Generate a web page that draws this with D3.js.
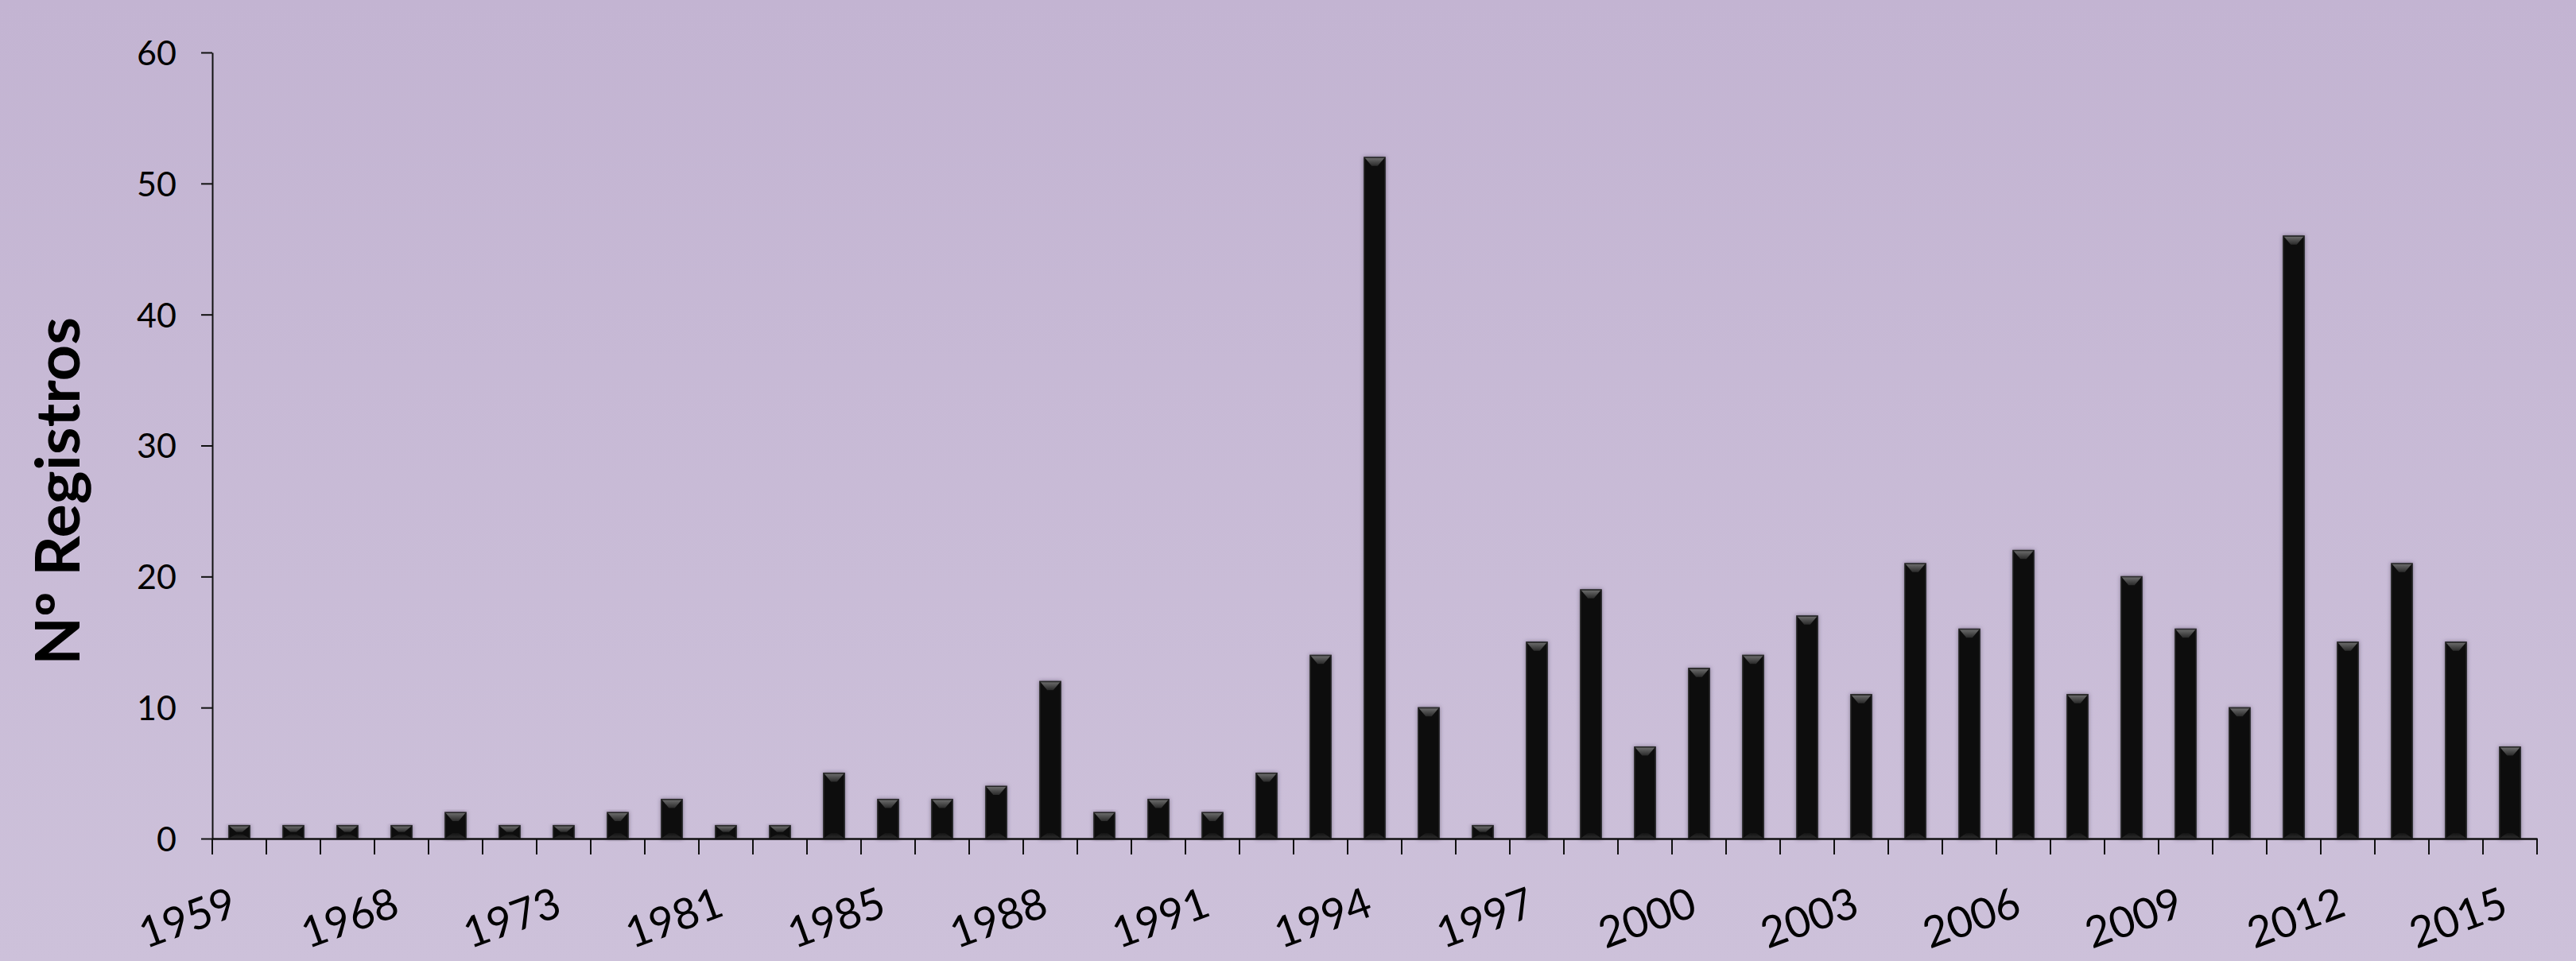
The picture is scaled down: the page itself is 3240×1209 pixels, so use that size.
<!DOCTYPE html>
<html>
<head>
<meta charset="utf-8">
<script src="https://cdn.jsdelivr.net/npm/d3@7"></script>
<style>
  html, body { margin: 0; padding: 0; }
  body { width: 3240px; height: 1209px; overflow: hidden; }
  svg { display: block; }
</style>
</head>
<body>
<svg id="chart" width="3240" height="1209"></svg>
<script>
// ---- data ----
const categories = [
  "1959","1962","1965","1968","1970","1971","1973","1975","1978","1981",
  "1983","1984","1985","1986","1987","1988","1989","1990","1991","1992",
  "1993","1994","1995","1996","1997","1998","1999","2000","2001","2002",
  "2003","2004","2005","2006","2007","2008","2009","2010","2011","2012",
  "2013","2014","2015"
];
const registros = [
  1,1,1,1,2,1,1,2,3,1,
  1,5,3,3,4,12,2,3,2,5,
  14,52,10,1,15,19,7,13,14,17,
  11,21,16,22,11,20,16,10,46,15,
  21,15,7
];
const labeledCategories = ["1959","1968","1973","1981","1985","1988","1991","1994","1997","2000","2003","2006","2009","2012","2015"];
const yTicks = [0,10,20,30,40,50,60];
const yTitle = "Nº Registros";

// ---- layout ----
const W = 3240, H = 1209;
const mLeft = 267, mRight = 3191, mTop = 66, mBottom = 1055;

const svg = d3.select("#chart");
const defs = svg.append("defs");

const bg = defs.append("linearGradient").attr("id","bg").attr("x1",0).attr("y1",0).attr("x2",0).attr("y2",1);
bg.append("stop").attr("offset","0%").attr("stop-color","#c3b4d2");
bg.append("stop").attr("offset","100%").attr("stop-color","#cdc1da");

const bev = defs.append("linearGradient").attr("id","bev").attr("x1",0).attr("y1",0).attr("x2",0).attr("y2",1);
bev.append("stop").attr("offset","0%").attr("stop-color","#6a6a6a");
bev.append("stop").attr("offset","100%").attr("stop-color","#2a2a2a");

const bevB = defs.append("linearGradient").attr("id","bevB").attr("x1",0).attr("y1",0).attr("x2",0).attr("y2",1);
bevB.append("stop").attr("offset","0%").attr("stop-color","#141414");
bevB.append("stop").attr("offset","100%").attr("stop-color","#2a2a2a");

const sh = defs.append("filter").attr("id","shadow").attr("x","-30%").attr("y","-10%").attr("width","160%").attr("height","120%");
sh.append("feDropShadow").attr("dx",0).attr("dy",0).attr("stdDeviation",2.5)
  .attr("flood-color","#3a2f48").attr("flood-opacity",0.55);

svg.append("rect").attr("width",W).attr("height",H).attr("fill","url(#bg)");

const x = d3.scaleBand().domain(categories).range([mLeft, mRight]).paddingInner(0.61).paddingOuter(0.305);
const y = d3.scaleLinear().domain([0, 60]).range([mBottom, mTop]);

// bars
const bars = svg.append("g").selectAll("g").data(categories.map((c,i)=>({c, v: registros[i]})))
  .join("g");

bars.append("rect")
  .attr("x", d => x(d.c))
  .attr("y", d => y(d.v))
  .attr("width", x.bandwidth())
  .attr("height", d => y(0) - y(d.v))
  .attr("fill", "#111111")
  .attr("stroke", "#2c2c2c")
  .attr("stroke-width", 1.2)
  .attr("filter", "url(#shadow)");

const bw = x.bandwidth();
const bevW = bw * 0.36, bevH = 11;
bars.append("polygon")
  .attr("points", d => {
    const x0 = x(d.c), y0 = y(d.v), h = Math.min(bevH, (y(0)-y(d.v))/2);
    return [[x0+1,y0+1],[x0+bw-1,y0+1],[x0+bw-bevW,y0+h],[x0+bevW,y0+h]].map(p=>p.join(",")).join(" ");
  })
  .attr("fill", "url(#bev)");
bars.append("polygon")
  .attr("points", d => {
    const x0 = x(d.c), y1 = y(0), h = Math.min(7, (y(0)-y(d.v))/3);
    return [[x0+1,y1-1],[x0+bw-1,y1-1],[x0+bw-bevW,y1-h],[x0+bevW,y1-h]].map(p=>p.join(",")).join(" ");
  })
  .attr("fill", "url(#bevB)");

// y axis
const yAxis = svg.append("g").attr("transform", `translate(${mLeft},0)`)
  .call(d3.axisLeft(y).tickValues(yTicks).tickSize(14).tickPadding(31).tickSizeOuter(0));
yAxis.select(".domain").attr("stroke","#111").attr("stroke-width",2);
yAxis.selectAll(".tick line").attr("stroke","#111").attr("stroke-width",2);
yAxis.selectAll(".tick text").attr("font-family","Lato, 'Open Sans', sans-serif")
  .attr("font-size",43).attr("fill","#000").attr("dy","0.36em");

// x axis
const xAxis = svg.append("g").attr("transform", `translate(0,${mBottom})`)
  .call(d3.axisBottom(x).tickValues(labeledCategories).tickSize(0).tickSizeOuter(0));
xAxis.select(".domain").attr("stroke","#111").attr("stroke-width",2.5);
xAxis.selectAll(".tick text")
  .attr("font-family","Lato, 'Open Sans', sans-serif")
  .attr("font-size",54).attr("fill","#000")
  .attr("text-anchor","end")
  .attr("y",null).attr("dy",null)
  .attr("transform", `translate(0,96) rotate(-20)`);

// boundary tick marks between categories
const bounds = categories.map(c => x(c) + x.bandwidth()/2 - x.step()/2);
bounds.push(x(categories[categories.length-1]) + x.bandwidth()/2 + x.step()/2);
svg.append("g").selectAll("line").data(bounds).join("line")
  .attr("x1", d=>d).attr("x2", d=>d)
  .attr("y1", mBottom).attr("y2", mBottom + 20)
  .attr("stroke","#111").attr("stroke-width",2);

// y title
svg.append("text")
  .attr("transform", `translate(100,618) rotate(-90)`)
  .attr("text-anchor","middle")
  .attr("font-family","Lato, 'Open Sans', sans-serif")
  .attr("font-weight","bold")
  .attr("font-size",76)
  .attr("textLength",438)
  .attr("lengthAdjust","spacingAndGlyphs")
  .attr("fill","#000")
  .text(yTitle);
</script>
</body>
</html>
